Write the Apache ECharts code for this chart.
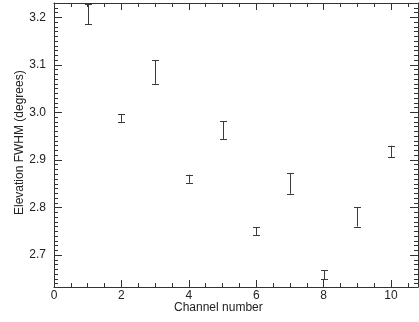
<!DOCTYPE html>
<html>
<head>
<meta charset="utf-8">
<script src="https://cdn.jsdelivr.net/npm/echarts@6/dist/echarts.min.js"></script>
<style>
  html, body { margin: 0; padding: 0; background: #fff; }
  #chart { width: 419px; height: 322px; }
</style>
</head>
<body>
<div id="chart"></div>
<script>
// Elevation beam width per channel, drawn as error bars (low / high)
const channels = [1, 2, 3, 4, 5, 6, 7, 8, 9, 10];
const fwhmLow  = [3.185, 2.980, 3.060, 2.852, 2.944, 2.742, 2.829, 2.649, 2.760, 2.906];
const fwhmHigh = [3.228, 2.996, 3.110, 2.869, 2.982, 2.759, 2.872, 2.668, 2.801, 2.930];

const xMajor = [0, 2, 4, 6, 8, 10];
const xMinor = [0.5, 1, 1.5, 2.5, 3, 3.5, 4.5, 5, 5.5, 6.5, 7, 7.5, 8.5, 9, 9.5, 10.5];
const yMajor = [2.7, 2.8, 2.9, 3.0, 3.1, 3.2];
const yMinor = [];
for (let i = 264; i <= 323; i++) {
  if (i % 10 !== 0) yMinor.push(i / 100);
}

const X_MIN = 0, X_MAX = 10.8;
const Y_MIN = 2.633, Y_MAX = 3.230;

const AXIS_COLOR = '#333';
const FONT = 'Liberation Sans, Arial, Helvetica, sans-serif';

function xAxisDef(pos, values, len, withLabel, withLine) {
  return {
    type: 'value', position: pos, min: X_MIN, max: X_MAX,
    axisLine: { show: withLine, onZero: false, lineStyle: { color: AXIS_COLOR, width: 1 } },
    axisTick: { show: true, inside: true, length: len, customValues: values,
                lineStyle: { color: AXIS_COLOR, width: 1 } },
    axisLabel: withLabel
      ? { show: true, customValues: values, color: '#222', fontSize: 12, fontFamily: FONT, margin: 3 }
      : { show: false },
    splitLine: { show: false }
  };
}
function yAxisDef(pos, values, len, withLabel, withLine) {
  return {
    type: 'value', position: pos, min: Y_MIN, max: Y_MAX,
    axisLine: { show: withLine, onZero: false, lineStyle: { color: AXIS_COLOR, width: 1 } },
    axisTick: { show: true, inside: true, length: len, customValues: values,
                lineStyle: { color: AXIS_COLOR, width: 1 } },
    axisLabel: withLabel
      ? { show: true, customValues: values, color: '#222', fontSize: 12, fontFamily: FONT, margin: 8,
          formatter: v => v.toFixed(1) }
      : { show: false },
    splitLine: { show: false }
  };
}

const chart = echarts.init(document.getElementById('chart'), null, { renderer: 'canvas' });

chart.setOption({
  animation: false,
  backgroundColor: '#fff',
  grid: { left: 54, right: 1, top: 3, bottom: 35, containLabel: false },
  xAxis: [
    xAxisDef('bottom', xMajor, 7, true, true),
    xAxisDef('bottom', xMinor, 4, false, false),
    xAxisDef('top', xMajor, 7, false, true),
    xAxisDef('top', xMinor, 4, false, false)
  ],
  yAxis: [
    yAxisDef('left', yMajor, 8, true, true),
    yAxisDef('left', yMinor, 4, false, false),
    yAxisDef('right', yMajor, 8, false, true),
    yAxisDef('right', yMinor, 4, false, false)
  ],
  graphic: [
    { type: 'text', left: 174, top: 302,
      style: { text: 'Channel number', font: '12px ' + FONT, fill: '#222' } },
    { type: 'text', rotation: Math.PI / 2, x: 14, y: 215,
      style: { text: 'Elevation FWHM (degrees)', font: '12px ' + FONT, fill: '#222' } }
  ],
  series: [{
    type: 'custom',
    xAxisIndex: 0, yAxisIndex: 0,
    clip: false,
    data: channels.map((c, i) => [c, fwhmLow[i], fwhmHigh[i]]),
    renderItem: function (params, api) {
      const lo = api.coord([api.value(0), api.value(1)]);
      const hi = api.coord([api.value(0), api.value(2)]);
      const x = Math.round(lo[0]) + 0.5;
      const half = 3.5;
      const style = { stroke: '#3a3a3a', lineWidth: 1 };
      return {
        type: 'group',
        children: [
          { type: 'line', shape: { x1: x, y1: lo[1], x2: x, y2: hi[1] }, style },
          { type: 'line', shape: { x1: x - half, y1: Math.round(lo[1]) + 0.5, x2: x + half, y2: Math.round(lo[1]) + 0.5 }, style },
          { type: 'line', shape: { x1: x - half, y1: Math.round(hi[1]) + 0.5, x2: x + half, y2: Math.round(hi[1]) + 0.5 }, style }
        ]
      };
    }
  }]
});
</script>
</body>
</html>
